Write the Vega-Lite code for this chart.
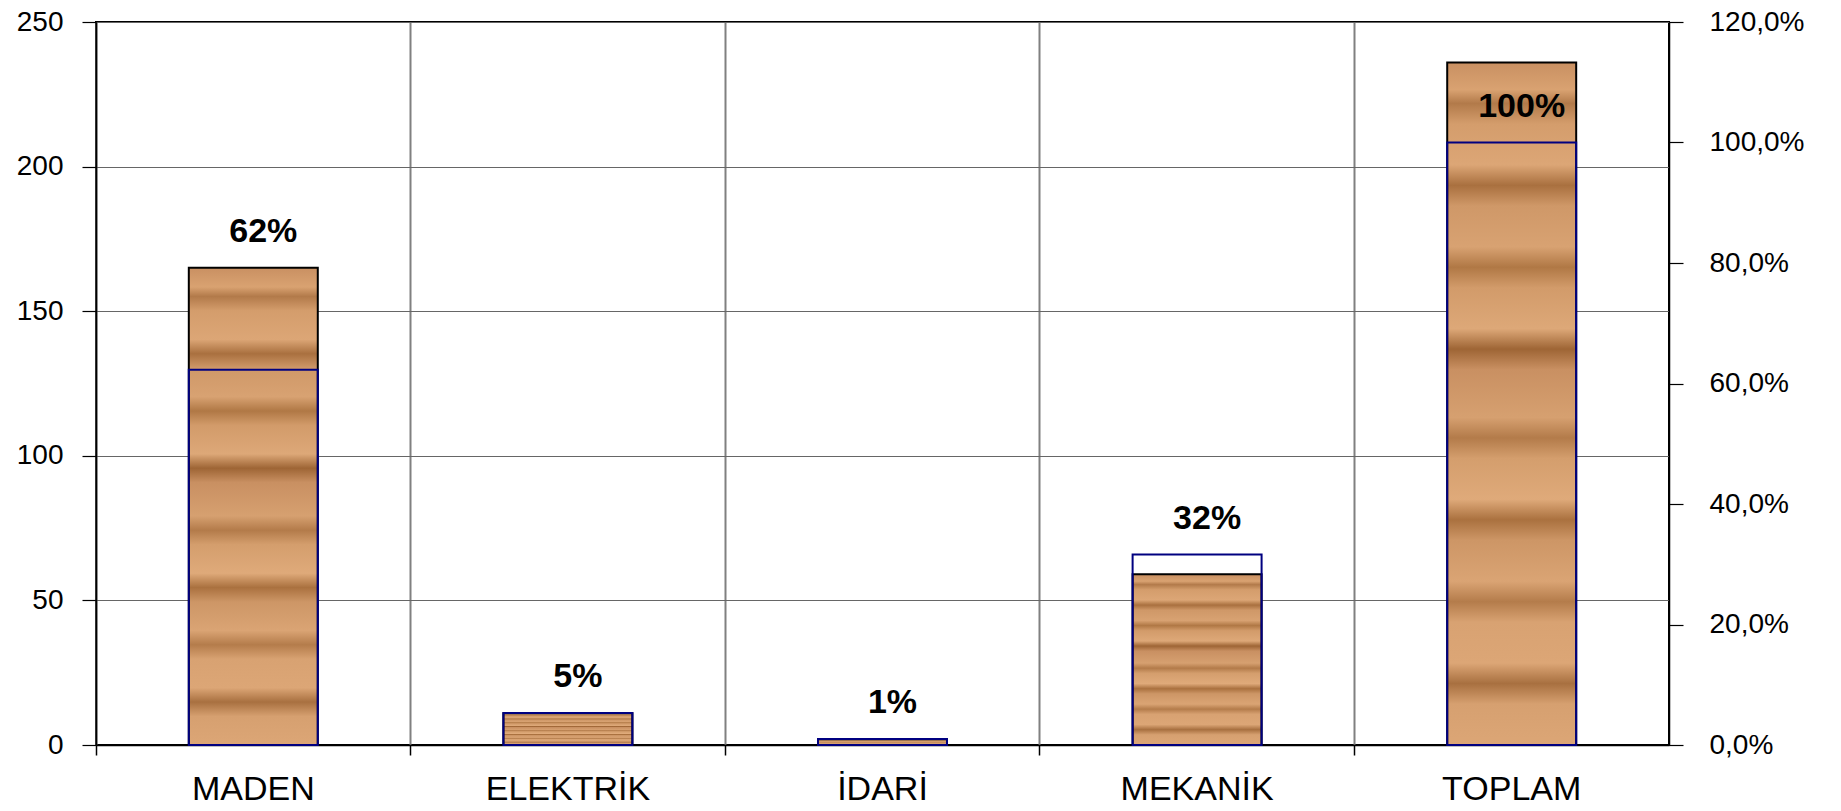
{
  "$schema": "https://vega.github.io/schema/vega-lite/v6.json",
  "width": 1573,
  "height": 723,
  "autosize": {"type": "none"},
  "padding": {"left": 96, "top": 22, "right": 172, "bottom": 66},
  "background": "white",
  "config": {
    "font": "Liberation Sans",
    "view": {"stroke": "black", "strokeWidth": 2}
  },
  "data": {
    "values": [
      {"cat": "MADEN", "count": 165, "pct": 0.623, "label": "62%"},
      {"cat": "ELEKTRİK", "count": 11, "pct": 0.053, "label": "5%"},
      {"cat": "İDARİ", "count": 2, "pct": 0.01, "label": "1%"},
      {"cat": "MEKANİK", "count": 59, "pct": 0.316, "label": "32%"},
      {"cat": "TOPLAM", "count": 236, "pct": 1.0, "label": "100%"}
    ]
  },
  "encoding": {
    "x": {
      "field": "cat",
      "type": "nominal",
      "sort": null,
      "scale": {"paddingInner": 0, "paddingOuter": 0},
      "axis": {
        "title": null,
        "bandPosition": 0,
        "labelOffset": 0,
        "labelAngle": 0,
        "labelFontSize": 34,
        "labelColor": "black",
        "labelPadding": 17,
        "labelOverlap": false,
        "labelBound": false,
        "labelFlush": false,
        "grid": true,
        "gridColor": "#808080",
        "gridWidth": 2,
        "ticks": true,
        "tickSize": 10,
        "tickColor": "black",
        "tickWidth": 1.5,
        "domainColor": "black",
        "domainWidth": 1.5
      }
    }
  },
  "layer": [
    {
      "mark": {
        "type": "bar",
        "width": {"band": 0.41},
        "fill": {
          "gradient": "linear",
          "x1": 0, "y1": 0, "x2": 0, "y2": 1,
          "stops": [
            {"offset": 0, "color": "#C99062"},
            {"offset": 0.04, "color": "#D9A271"},
            {"offset": 0.06, "color": "#B27A4A"},
            {"offset": 0.09, "color": "#D49D6C"},
            {"offset": 0.15, "color": "#DCA676"},
            {"offset": 0.18, "color": "#A9703F"},
            {"offset": 0.21, "color": "#CF9868"},
            {"offset": 0.27, "color": "#D8A272"},
            {"offset": 0.3, "color": "#B07845"},
            {"offset": 0.33, "color": "#D29B6A"},
            {"offset": 0.39, "color": "#DDA878"},
            {"offset": 0.42, "color": "#9E6535"},
            {"offset": 0.45, "color": "#C99062"},
            {"offset": 0.52, "color": "#D6A070"},
            {"offset": 0.55, "color": "#B37B4A"},
            {"offset": 0.58, "color": "#D49E6D"},
            {"offset": 0.64, "color": "#DFAA7A"},
            {"offset": 0.67, "color": "#AA713F"},
            {"offset": 0.7, "color": "#CD9666"},
            {"offset": 0.76, "color": "#DAA474"},
            {"offset": 0.79, "color": "#B47C4B"},
            {"offset": 0.82, "color": "#D8A272"},
            {"offset": 0.88, "color": "#DCA676"},
            {"offset": 0.91, "color": "#A87040"},
            {"offset": 0.94, "color": "#D6A070"},
            {"offset": 1, "color": "#DCA676"}
          ]
        },
        "stroke": "black",
        "strokeWidth": 2
      },
      "encoding": {
        "y": {
          "field": "count",
          "type": "quantitative",
          "scale": {"domain": [0, 250], "nice": false},
          "axis": {
            "title": null,
            "values": [0, 50, 100, 150, 200, 250],
            "labelFontSize": 28,
            "labelColor": "black",
            "labelPadding": 19,
            "grid": true,
            "gridColor": "#666666",
            "gridWidth": 1.2,
            "tickSize": 14,
            "tickColor": "black",
            "tickWidth": 1.2,
            "domainColor": "black",
            "domainWidth": 1.5
          }
        }
      }
    },
    {
      "mark": {
        "type": "bar",
        "width": {"band": 0.41},
        "fill": "white",
        "fillOpacity": 0,
        "stroke": "#000080",
        "strokeWidth": 2
      },
      "encoding": {
        "y": {
          "field": "pct",
          "type": "quantitative",
          "scale": {"domain": [0, 1.2], "nice": false},
          "axis": {
            "orient": "right",
            "title": null,
            "values": [0, 0.2, 0.4, 0.6, 0.8, 1.0, 1.2],
            "labelExpr": "replace(format(datum.value, '.1%'), '.', ',')",
            "labelFontSize": 28,
            "labelColor": "black",
            "labelPadding": 26,
            "grid": false,
            "tickSize": 14,
            "tickColor": "black",
            "tickWidth": 1.2,
            "domainColor": "black",
            "domainWidth": 1.5
          }
        }
      }
    },
    {
      "transform": [
        {"calculate": "datum.cat == 'TOPLAM' ? datum.pct * 250 / 1.2 : max(datum.count, datum.pct * 250 / 1.2)", "as": "labelAt"}
      ],
      "mark": {
        "type": "text",
        "font": "Liberation Sans",
        "fontWeight": "bold",
        "fontSize": 34,
        "color": "black",
        "align": "center",
        "baseline": "middle",
        "dy": -36,
        "dx": 10
      },
      "encoding": {
        "y": {
          "field": "labelAt",
          "type": "quantitative",
          "scale": {"domain": [0, 250], "nice": false},
          "axis": null
        },
        "text": {"field": "label"}
      }
    }
  ],
  "resolve": {"scale": {"y": "independent"}}
}
